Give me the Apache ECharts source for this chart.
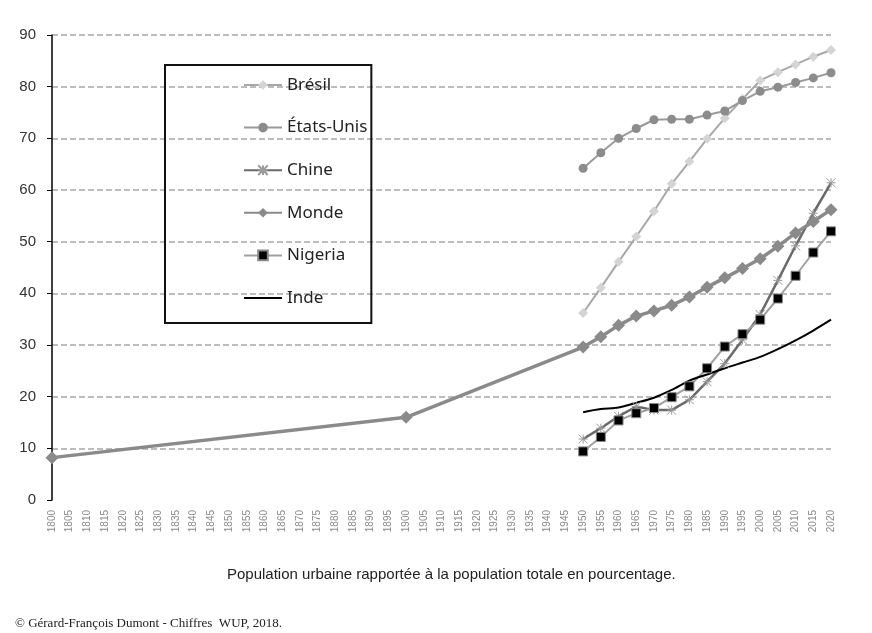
<!DOCTYPE html>
<html>
<head>
<meta charset="utf-8">
<script src="https://cdn.jsdelivr.net/npm/echarts@6/dist/echarts.min.js"></script>
<style>
html,body{margin:0;padding:0;background:#fff;}
#c{width:872px;height:633px;}
</style>
</head>
<body>
<div id="c"></div>
<script>
// Categories: years 1800..2020, every 5 years
const years = ["1800","1805","1810","1815","1820","1825","1830","1835","1840","1845","1850","1855","1860","1865","1870","1875","1880","1885","1890","1895","1900","1905","1910","1915","1920","1925","1930","1935","1940","1945","1950","1955","1960","1965","1970","1975","1980","1985","1990","1995","2000","2005","2010","2015","2020"];
const yTicks = [0,10,20,30,40,50,60,70,80,90];

// Values 1950..2020 (every 5 years)
const bresil    = [36.2,41.1,46.1,51.0,55.9,61.2,65.5,69.9,73.9,77.6,81.2,82.8,84.3,85.8,87.1];
const etatsUnis = [64.2,67.2,70.0,71.9,73.6,73.7,73.7,74.5,75.3,77.3,79.1,79.9,80.8,81.7,82.7];
const chine     = [11.8,13.9,16.2,18.1,17.4,17.4,19.4,22.9,26.4,31.0,35.9,42.5,49.2,55.5,61.4];
const nigeria   = [9.4,12.2,15.4,16.8,17.8,19.9,22.0,25.5,29.7,32.1,34.9,39.0,43.4,47.9,52.0];
const inde      = [17.0,17.6,17.9,18.8,19.8,21.3,23.1,24.3,25.5,26.6,27.7,29.2,30.9,32.8,34.9];
// Monde: 1800, 1900, then 1950..2020
const mondeEarlyYears = ["1800","1900"];
const mondeEarly = [8.2,16.0];
const monde     = [29.6,31.6,33.8,35.6,36.6,37.7,39.3,41.2,43.0,44.8,46.7,49.1,51.7,53.9,56.2];

function fromYear(startYear, vals){
  const out = years.map(()=>null);
  const i0 = years.indexOf(startYear);
  vals.forEach((v,k)=>{ out[i0+k] = v; });
  return out;
}
const mondeData = fromYear("1950", monde);
mondeEarlyYears.forEach((y,k)=>{ mondeData[years.indexOf(y)] = mondeEarly[k]; });

const starPath = 'path://M0,0L10,10M10,0L0,10M5,0L5,10M0,5L10,5';

const chart = echarts.init(document.getElementById('c'), null, {renderer:'canvas'});
chart.setOption({
  animation:false,
  backgroundColor:'#fff',
  grid:{left:52,right:41,top:35,bottom:133},
  title:[
    {text:'Population urbaine rapportée à la population totale en pourcentage.',left:222,top:562,
     textStyle:{fontFamily:'Liberation Sans',fontSize:15,fontWeight:'normal',color:'#222'}},
    {text:'© Gérard-François Dumont - Chiffres  WUP, 2018.',left:10,top:612,
     textStyle:{fontFamily:'Liberation Serif',fontSize:13,fontWeight:'normal',color:'#222'}}
  ],
  legend:{
    orient:'vertical',left:165,top:65,
    padding:[11,4,16,78],
    borderColor:'#111',borderWidth:2,
    itemWidth:38,itemHeight:12,itemGap:24.6,
    textStyle:{fontFamily:'Noto Sans',fontSize:17,color:'#222',lineHeight:18},
    data:['Brésil','États-Unis','Chine','Monde','Nigeria',
      {name:'Inde',icon:'path://M0,0h38v2h-38z'}]
  },
  xAxis:{
    type:'category',data:years,boundaryGap:false,
    axisLine:{show:false},axisTick:{show:false},
    axisLabel:{rotate:90,fontSize:10,color:'#8a8a8a',fontFamily:'Liberation Sans',margin:10,interval:0},
    splitLine:{show:false}
  },
  yAxis:{
    type:'value',min:0,max:90,interval:10,
    axisLine:{show:true,lineStyle:{color:'#000',width:1.5}},
    axisTick:{show:true,length:5,lineStyle:{color:'#000'}},
    axisLabel:{fontFamily:'Liberation Sans',fontSize:15,color:'#333',margin:16,
      formatter:v=>yTicks.includes(v)?String(v):''},
    splitLine:{show:true,showMinLine:false,lineStyle:{color:'#a8a8a8',width:1.5,type:[6,3]}}
  },
  series:[
    {name:'Brésil',type:'line',data:fromYear("1950",bresil),symbol:'diamond',symbolSize:10,
      lineStyle:{color:'#a8a8a8',width:2},itemStyle:{color:'#d4d4d4'}},
    {name:'États-Unis',type:'line',data:fromYear("1950",etatsUnis),symbol:'circle',symbolSize:9,
      lineStyle:{color:'#9a9a9a',width:2},itemStyle:{color:'#8c8c8c'}},
    {name:'Chine',type:'line',data:fromYear("1950",chine),symbol:starPath,symbolSize:9,
      lineStyle:{color:'#6a6a6a',width:2.5},itemStyle:{color:'rgba(0,0,0,0)',borderColor:'#9a9a9a',borderWidth:1}},
    {name:'Monde',type:'line',data:mondeData,connectNulls:true,symbol:'diamond',symbolSize:13,
      lineStyle:{color:'#8a8a8a',width:3.5},itemStyle:{color:'#8a8a8a'}},
    {name:'Nigeria',type:'line',data:fromYear("1950",nigeria),symbol:'rect',symbolSize:9,
      lineStyle:{color:'#a0a0a0',width:2},itemStyle:{color:'#000',borderColor:'#888',borderWidth:1}},
    {name:'Inde',type:'line',data:fromYear("1950",inde),symbol:'none',smooth:0.3,
      lineStyle:{color:'#000',width:2},itemStyle:{color:'#000'}}
  ]
});
</script>
</body>
</html>
